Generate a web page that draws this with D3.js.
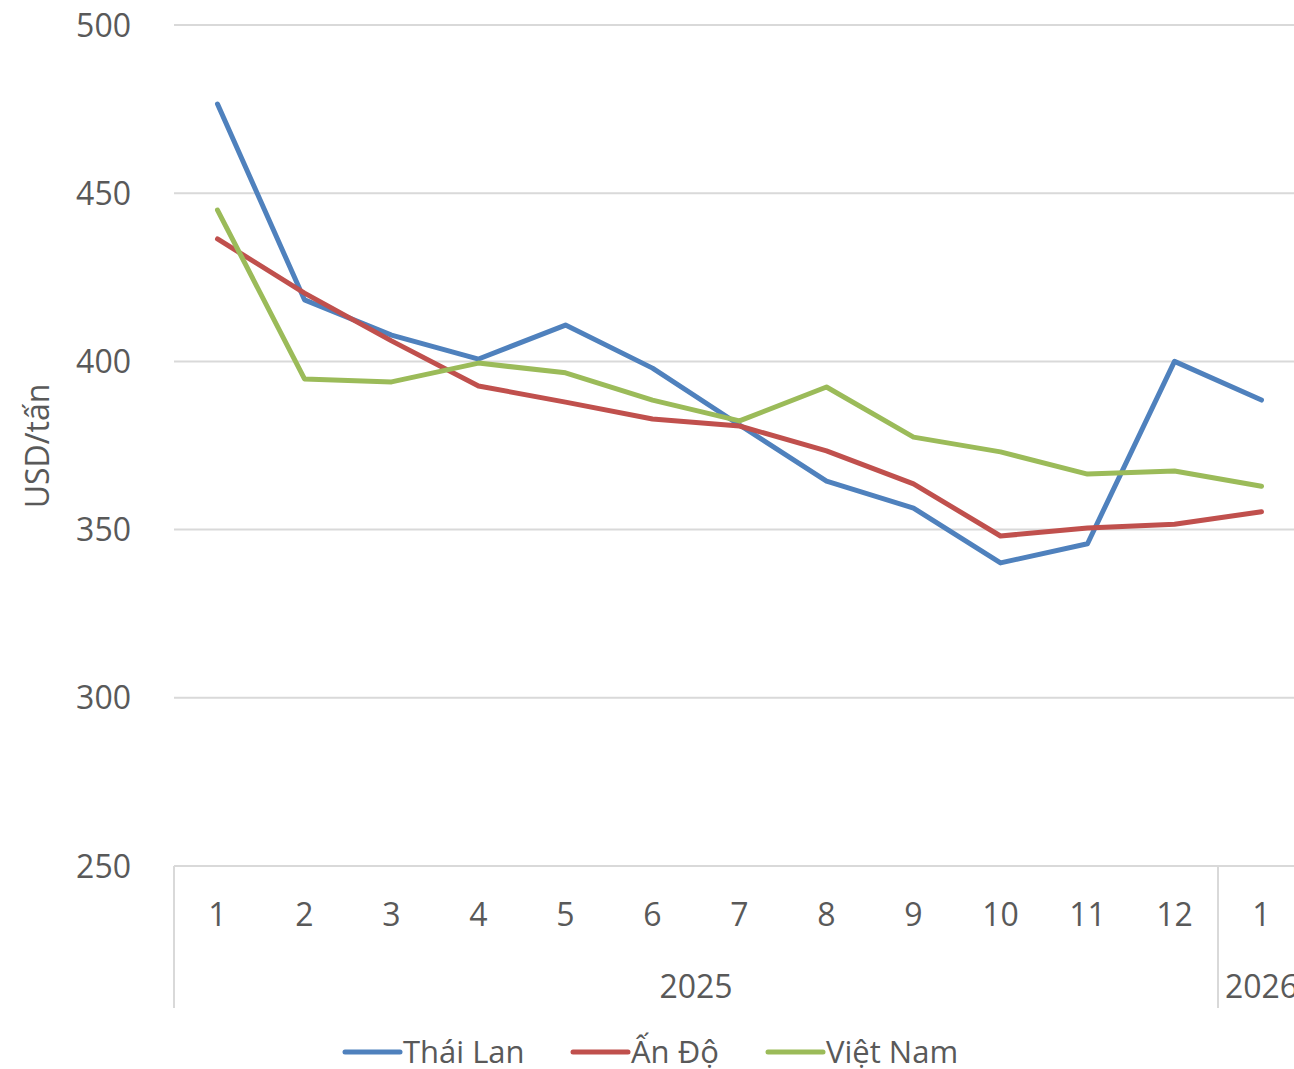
<!DOCTYPE html>
<html>
<head>
<meta charset="utf-8">
<script src="https://cdn.jsdelivr.net/npm/d3@7"></script>
<style>
  body { margin: 0; background: #fff; }
  svg text { font-family: 'Open Sans', 'Noto Sans', sans-serif; fill: #595959; }
</style>
</head>
<body>
<svg id="chart"></svg>
<script>
// month labels under each point, and the year groups they belong to
const months = ['1', '2', '3', '4', '5', '6', '7', '8', '9', '10', '11', '12', '1']
const years = [{ label: '2025', from: 0, to: 11 }, { label: '2026', from: 12, to: 12 }]

const thaiLan = [476.5, 418.3, 407.8, 400.7, 410.8, 398.0, 381.1, 364.4, 356.4, 340.1, 345.8, 400.0, 388.5]
const anDo = [436.4, 420.3, 406.1, 392.7, 387.9, 382.9, 380.8, 373.4, 363.6, 348.1, 350.5, 351.6, 355.3]
const vietNam = [445.0, 394.8, 393.9, 399.5, 396.6, 388.5, 382.3, 392.4, 377.5, 373.1, 366.5, 367.4, 362.9]

const yTicks = [250, 300, 350, 400, 450, 500]

const series = [
  { name: 'Thái Lan', values: thaiLan, color: '#4f81bd' },
  { name: 'Ấn Độ', values: anDo, color: '#c0504d' },
  { name: 'Việt Nam', values: vietNam, color: '#9bbb59' }
]

const W = 1294, H = 1069
const svg = d3.select('#chart').attr('width', W).attr('height', H)

const x = d3.scaleBand().domain(d3.range(months.length)).range([174, 174 + 87 * months.length])
const y = d3.scaleLinear().domain([250, 500]).range([866, 25])

// gridlines + y labels
svg.append('g').selectAll('line').data(yTicks.slice(1)).join('line')
  .attr('x1', 174).attr('x2', W)
  .attr('y1', d => y(d)).attr('y2', d => y(d))
  .attr('stroke', '#d9d9d9').attr('stroke-width', 2)

svg.append('g').selectAll('text').data(yTicks).join('text')
  .attr('x', 131).attr('y', d => y(d)).attr('dy', '0.36em')
  .attr('text-anchor', 'end').attr('font-size', '32px')
  .text(d => d)

svg.append('text')
  .attr('transform', 'translate(37,' + 446 + ') rotate(-90)')
  .attr('text-anchor', 'middle').attr('dy', '0.36em').attr('font-size', '32px')
  .text('USD/tấn')

// category axis
const axisG = svg.append('g')
axisG.append('line').attr('x1', 174).attr('x2', W).attr('y1', y(250)).attr('y2', y(250))
  .attr('stroke', '#d9d9d9').attr('stroke-width', 2)
const groupEdges = [0].concat(years.map(d => d.to + 1))
axisG.selectAll('.sep').data(groupEdges).join('line').attr('class', 'sep')
  .attr('x1', d => x.range()[0] + d * x.step()).attr('x2', d => x.range()[0] + d * x.step())
  .attr('y1', y(250)).attr('y2', 1008)
  .attr('stroke', '#d9d9d9').attr('stroke-width', 2)

axisG.selectAll('.month').data(months).join('text').attr('class', 'month')
  .attr('x', (d, i) => x(i) + x.bandwidth() / 2).attr('y', 914).attr('dy', '0.36em')
  .attr('text-anchor', 'middle').attr('font-size', '32px')
  .text(d => d)

axisG.selectAll('.year').data(years).join('text').attr('class', 'year')
  .attr('x', d => (x(d.from) + x(d.to) + x.bandwidth()) / 2).attr('y', 986).attr('dy', '0.36em')
  .attr('text-anchor', 'middle').attr('font-size', '32px')
  .text(d => d.label)

// lines
const line = d3.line().x((d, i) => x(i) + x.bandwidth() / 2).y(d => y(d))
svg.append('g').selectAll('path').data(series).join('path')
  .attr('d', d => line(d.values))
  .attr('fill', 'none').attr('stroke', d => d.color)
  .attr('stroke-width', 5).attr('stroke-linejoin', 'round').attr('stroke-linecap', 'round')

// legend
const legendX = [345, 573, 768]
const lg = svg.append('g').selectAll('g').data(series).join('g')
  .attr('transform', (d, i) => 'translate(' + legendX[i] + ',1052)')
lg.append('line').attr('x1', 0).attr('x2', 55)
  .attr('stroke', d => d.color).attr('stroke-width', 5).attr('stroke-linecap', 'round')
lg.append('text').attr('x', 58).attr('dy', '0.36em').attr('font-size', '31px')
  .text(d => d.name)
</script>
</body>
</html>
